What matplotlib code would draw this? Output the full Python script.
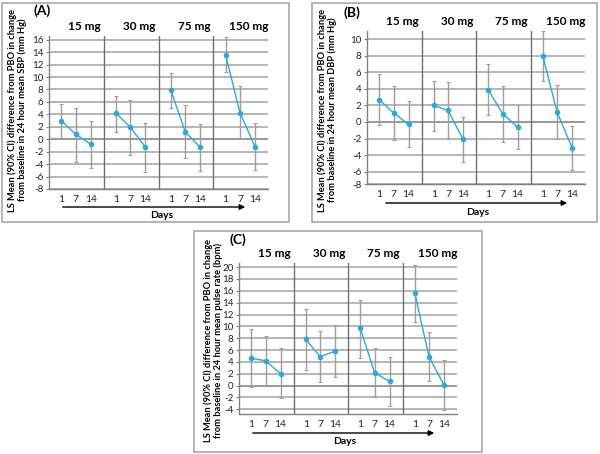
import matplotlib
matplotlib.use("Agg")
import matplotlib.pyplot as plt
from matplotlib.patches import Rectangle, FancyArrowPatch

plt.rcParams['font.family'] = ['Lato', 'DejaVu Sans']

doses = ["15 mg", "30 mg", "75 mg", "150 mg"]
days = ["1", "7", "14"]

# Panel A: SBP
sbp_mean = [[3.0, 0.8, -0.8], [4.2, 1.9, -1.3], [7.9, 1.2, -1.3], [13.6, 4.3, -1.2]]
sbp_lo = [[0.1, -3.6, -4.7], [1.2, -2.6, -5.3], [5.0, -3.0, -5.1], [10.8, 0.0, -5.0]]
sbp_hi = [[5.7, 5.0, 3.0], [7.0, 6.3, 2.6], [10.6, 5.5, 2.5], [16.4, 8.6, 2.6]]

# Panel B: DBP
dbp_mean = [[2.7, 1.1, -0.3], [2.0, 1.4, -2.1], [3.9, 1.0, -0.6], [8.0, 1.2, -3.1]]
dbp_lo = [[-0.4, -2.2, -3.0], [-1.1, -2.0, -4.8], [0.9, -2.4, -3.3], [4.9, -2.0, -5.8]]
dbp_hi = [[5.8, 4.4, 2.5], [5.0, 4.8, 0.6], [7.0, 4.3, 2.0], [11.0, 4.5, -0.5]]

# Panel C: pulse rate
pr_mean = [[4.6, 4.2, 2.0], [7.8, 4.9, 5.8], [9.7, 2.2, 0.7], [15.7, 4.8, 0.1]]
pr_lo = [[-0.3, 0.0, -2.1], [2.7, 0.6, 1.5], [4.7, -2.0, -3.5], [10.8, 0.7, -4.1]]
pr_hi = [[9.5, 8.4, 6.3], [12.9, 9.2, 10.2], [14.5, 6.4, 4.9], [20.4, 9.0, 4.3]]

W, H = 600, 454
fig = plt.figure(figsize=(W / 100, H / 100), dpi=100)

LINE = '#29aae1'
ERR = '#a39d98'
GRID = '#b0b0b0'
ZERO = '#909090'
DIV = '#707070'
BOX = '#a8a8a8'
offsets = [0.9, 1.95, 3.05]


def fx(x):
    return x / W


def fy(y):
    return 1 - y / H


def box(x0, y0, x1, y1):
    fig.patches.append(Rectangle((fx(x0), fy(y1)), fx(x1 - x0), (y1 - y0) / H,
                                 transform=fig.transFigure, fill=False,
                                 edgecolor=BOX, lw=1.2))


def panel(rect, mean, lo, hi, ylim, yticks, yticklabels, ylabel, letter,
          letter_xy, ylab_xy, arrow, days_xy):
    x0, y0, x1, y1 = rect
    ax = fig.add_axes([fx(x0), fy(y1), fx(x1 - x0), (y1 - y0) / H])
    ax.set_xlim(0, 16)
    ax.set_ylim(*ylim)
    ax.set_yticks(yticks)
    ax.set_yticklabels(yticklabels)
    for t in yticks:
        ax.axhline(t, color=ZERO if t == 0 else GRID, lw=1.3, zorder=0)
    for k in range(1, 4):
        ax.axvline(4 * k, color=DIV, lw=1.0, zorder=1)
    xt = []
    for k in range(4):
        xs = [4 * k + o for o in offsets]
        xt += xs
        m = mean[k]
        yerr = [[m[i] - lo[k][i] for i in range(3)], [hi[k][i] - m[i] for i in range(3)]]
        ax.errorbar(xs, m, yerr=yerr, fmt='none', ecolor=ERR, elinewidth=1.0,
                    capsize=1.5, capthick=0.8, zorder=2)
        ax.plot(xs, m, color=LINE, lw=1.0, marker='o', ms=3, zorder=3)
        ax.text(4 * k + 2.6, 1.06, doses[k], transform=ax.get_xaxis_transform(),
                ha='center', va='center', fontsize=8.5, fontweight='bold')
    ax.set_xticks(xt)
    ax.set_xticklabels(days * 4)
    for s in ['top', 'right']:
        ax.spines[s].set_visible(False)
    for s in ['left', 'bottom']:
        ax.spines[s].set_color('#808080')
        ax.spines[s].set_linewidth(1.0)
    ax.tick_params(axis='x', length=0, labelsize=7.5, pad=4, colors='#222222')
    ax.tick_params(axis='y', length=2.5, width=0.8, color='#808080', labelsize=7,
                   pad=1.5, labelcolor='#222222')
    fig.text(fx(letter_xy[0]), fy(letter_xy[1]), letter, fontsize=10,
             fontweight='bold', ha='center', va='center')
    fig.text(fx(ylab_xy[0]), fy(ylab_xy[1]), ylabel, rotation=90, fontsize=6.7,
             fontweight='bold', ha='center', va='center', multialignment='center',
             linespacing=1.05)
    ax0, ax1, ay = arrow
    fig.patches.append(FancyArrowPatch(
        (fx(ax0), fy(ay)), (fx(ax1), fy(ay)), transform=fig.transFigure,
        arrowstyle='-|>', mutation_scale=8, color='black', lw=1.0))
    fig.text(fx(days_xy[0]), fy(days_xy[1]), "Days", fontsize=7.5,
             fontweight='bold', ha='center', va='center')
    return ax


box(2, 3, 289, 222)
box(312, 3, 597, 222)
box(194, 231, 482, 452)

panel((49, 36, 268, 189), sbp_mean, sbp_lo, sbp_hi, (-8, 16.6),
      list(range(-8, 17, 2)), [str(v) for v in range(-8, 17, 2)],
      "LS Mean (90% CI) difference from PBO in change\nfrom baseline in 24 hour mean SBP (mm Hg)",
      "(A)", (42, 11), (17, 110), (60, 248, 207), (162, 215))

b_ticks = [-7.5] + list(range(-6, 11, 2))
b_labels = ["-8"] + [str(v) for v in range(-6, 11, 2)]
panel((367, 31, 585, 184), dbp_mean, dbp_lo, dbp_hi, (-7.5, 11),
      b_ticks, b_labels,
      "LS Mean (90% CI) difference from PBO in change\nfrom baseline in 24 hour mean DBP (mm Hg)",
      "(B)", (352, 13), (327, 110), (383, 570, 203), (478, 212))

panel((239, 263, 457, 414), pr_mean, pr_lo, pr_hi, (-4.8, 20.7),
      list(range(-4, 21, 2)), [str(v) for v in range(-4, 21, 2)],
      "LS Mean (90% CI) difference from PBO in change\nfrom baseline in 24 hour mean pulse rate (bpm)",
      "(C)", (238, 240), (213, 340), (250, 437, 433), (345, 442))

fig.savefig("out.png", dpi=100)
